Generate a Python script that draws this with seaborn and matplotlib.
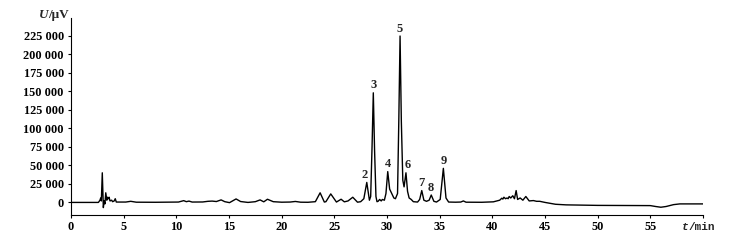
import numpy as np
import pandas as pd
import matplotlib
matplotlib.use("Agg")
import matplotlib.pyplot as plt
from matplotlib.ticker import FuncFormatter
import seaborn as sns

# chromatogram trace: time (min), signal (1000 uV)
trace_t = [0, 2.6, 2.75, 2.82, 2.88, 2.97, 3.07, 3.15, 3.22, 3.3, 3.4, 3.47, 3.55,
           3.62, 3.7, 3.86, 3.95, 4.1, 4.2, 4.3, 4.6, 5.2, 5.67, 6.2, 8.0, 10.2,
           10.7, 10.95, 11.2, 11.5, 12.5, 13.0, 13.4, 13.8, 14.25, 14.6, 15.05,
           15.4, 15.67, 16.1, 16.8, 17.5, 17.95, 18.3, 18.65, 19.2, 20.0, 20.8,
           21.3, 21.8, 22.5, 23.2, 23.65, 24.05, 24.2, 24.66, 25.2, 25.64, 25.95,
           26.3, 26.75, 27.2, 27.5, 27.8, 28.08, 28.33, 28.45, 28.58, 28.7, 28.82,
           28.95, 29.05, 29.15, 29.3, 29.45, 29.56, 29.75, 29.9, 30.07, 30.25,
           30.45, 30.65, 30.8, 31.0, 31.12, 31.24, 31.36, 31.5, 31.62, 31.8,
           31.95, 32.1, 32.3, 32.5, 32.9, 33.1, 33.3, 33.5, 33.75, 34.0, 34.2,
           34.45, 34.7, 35.05, 35.35, 35.6, 35.85, 36.5, 37.0, 37.25, 37.5, 39.0,
           40.1, 40.7, 40.9, 41.0, 41.1, 41.25, 41.4, 41.5, 41.6, 41.75, 41.94,
           42.1, 42.26, 42.4, 42.64, 42.9, 43.18, 43.5, 43.9, 44.2, 44.5, 45.0,
           46.0, 47.0, 50.0, 55.0, 55.5, 56.0, 56.5, 57.2, 57.8, 60.0]
trace_v = [0, 0, 3, 6, 2, 40, -7, 2, -2, 13, 3, 7, 5,
           7, 2, 3, 1, 2, 5, 0.5, 0.5, 0.5, 1.5, 0.3, 0.2, 0.5,
           2.4, 1, 1.8, 0.5, 0.6, 1.5, 1.8, 1.2, 3.4, 1, -0.3,
           2.5, 4.7, 1.2, 0, 1, 3.4, 0.8, 4.3, 1, 0.3, 0.5,
           1.3, 0.3, 0.2, 1, 13, 0.5, 1, 11.5, 0.5, 4.3, 0.8,
           2, 7, 0.3, 1, 5, 27, 3, 8, 75, 148, 70,
           8, 1, 1.5, 4, 2, 4, 3, 12, 41.6, 18,
           12, 6, 5, 12, 110, 224.7, 110, 30, 21, 40,
           15, 6, 4, 1, 0.5, 4, 16, 3, 1.5, 3, 10,
           1.5, 0.5, 4, 46, 6, 0.5, 0.3, 0.5, 2, 0.3, 0.2,
           0.8, 3, 5.7, 4.5, 7, 5, 6, 5, 8, 6, 9,
           5, 16, 4, 6, 3, 8, 2, 2.5, 1.5, 1.5, 0,
           -2.5, -3.3, -4, -4.3, -5.5, -6.5, -5.5, -3, -2, -2]

# numbered peaks
peak_labels = ["2", "3", "4", "5", "6", "7", "8", "9"]
peak_t = [28.08, 28.7, 30.07, 31.24, 31.8, 33.3, 34.2, 35.35]
peak_v = [27, 148, 41.6, 224.7, 40, 16, 10, 46]
peak_dx = [-1.2, 0, 0, 0, 1.5, 0, -0.6, 0]

x_ticks = [0, 5, 10, 15, 20, 25, 30, 35, 40, 45, 50, 55, 60]
y_ticks = [0, 25000, 50000, 75000, 100000, 125000, 150000, 175000, 200000, 225000]

df = pd.DataFrame({"t": trace_t, "U": np.array(trace_v) * 1000})

sns.set_theme(style="ticks")
plt.rcParams["font.family"] = ["Liberation Serif", "DejaVu Serif"]

fig = plt.figure(figsize=(7.53, 2.45), dpi=100)
ax = fig.add_axes([0.0943, 0.1224, 0.8393, 0.8041])

sns.lineplot(data=df, x="t", y="U", ax=ax, color="black", linewidth=1.0,
             sort=False, estimator=None)

ax.set_xlim(0, 60)
ax.set_ylim(-17000, 249000)
ax.set_xticks(x_ticks)
ax.set_yticks(y_ticks)
ax.xaxis.set_major_formatter(FuncFormatter(lambda v, p: "" if v >= 60 else f"{v:.0f}"))
ax.yaxis.set_major_formatter(FuncFormatter(lambda v, p: f"{v:,.0f}".replace(",", " ")))
ax.set_xlabel("")
ax.set_ylabel("")

for s in ["top", "right"]:
    ax.spines[s].set_visible(False)
for s in ["left", "bottom"]:
    ax.spines[s].set_linewidth(0.8)
    ax.spines[s].set_color("black")

ax.tick_params(axis="both", direction="out", width=0.8, color="black",
               labelsize=8.8, labelcolor="black")
ax.tick_params(axis="x", length=2.4, pad=2.0)
ax.tick_params(axis="y", length=2.0, pad=3.2)
for lab in ax.get_xticklabels() + ax.get_yticklabels():
    lab.set_fontweight("bold")

# peak numbers
for lab, t, v, dx in zip(peak_labels, peak_t, peak_v, peak_dx):
    ax.annotate(lab, (t, v * 1000), xytext=(dx, 5.4), textcoords="offset points",
                ha="center", va="center", fontsize=9, fontweight="bold")

# axis titles placed like in the original
ax.annotate("U", (0, 1), xycoords="axes fraction", xytext=(-16.5, 2.0),
            textcoords="offset points", ha="right", va="center",
            fontsize=9.5, fontweight="bold", fontstyle="italic")
ax.annotate("/μV", (0, 1), xycoords="axes fraction", xytext=(-16.5, 2.0),
            textcoords="offset points", ha="left", va="center",
            fontsize=9.5, fontweight="bold")
ax.annotate("t", (60, 0), xycoords=("data", "axes fraction"), xytext=(-10.5, -8.8),
            textcoords="offset points", ha="right", va="center",
            fontsize=8, fontstyle="italic", family="Liberation Mono", fontweight="bold")
ax.annotate("/min", (60, 0), xycoords=("data", "axes fraction"), xytext=(-10.5, -8.8),
            textcoords="offset points", ha="left", va="center",
            fontsize=8, family="Liberation Mono", fontweight="bold")

fig.savefig("out.png", dpi=100)
